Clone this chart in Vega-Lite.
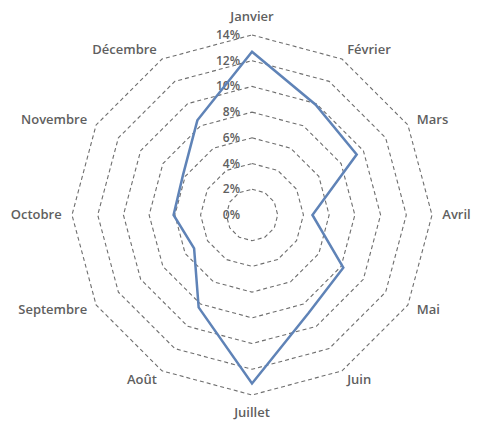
{
  "$schema": "https://vega.github.io/schema/vega-lite/v6.json",
  "width": 481,
  "height": 427,
  "autosize": "none",
  "padding": 0,
  "background": "white",
  "config": {"view": {"stroke": null}, "text": {"font": "Open Sans", "fontSize": 13, "fontWeight": 600, "color": "#5f5f5f"}},
  "datasets": {
    "ventes": [
      {"mois": "Janvier", "i": 0, "part": 0.127},
      {"mois": "Février", "i": 1, "part": 0.099},
      {"mois": "Mars", "i": 2, "part": 0.094},
      {"mois": "Avril", "i": 3, "part": 0.047},
      {"mois": "Mai", "i": 4, "part": 0.082},
      {"mois": "Juin", "i": 5, "part": 0.088},
      {"mois": "Juillet", "i": 6, "part": 0.131},
      {"mois": "Août", "i": 7, "part": 0.083},
      {"mois": "Septembre", "i": 8, "part": 0.052},
      {"mois": "Octobre", "i": 9, "part": 0.061},
      {"mois": "Novembre", "i": 10, "part": 0.062},
      {"mois": "Décembre", "i": 11, "part": 0.085}
    ],
    "niveaux": [
      {"niveau": 0, "sommet": [0,1,2,3,4,5,6,7,8,9,10,11]},
      {"niveau": 0.02, "sommet": [0,1,2,3,4,5,6,7,8,9,10,11]},
      {"niveau": 0.04, "sommet": [0,1,2,3,4,5,6,7,8,9,10,11]},
      {"niveau": 0.06, "sommet": [0,1,2,3,4,5,6,7,8,9,10,11]},
      {"niveau": 0.08, "sommet": [0,1,2,3,4,5,6,7,8,9,10,11]},
      {"niveau": 0.10, "sommet": [0,1,2,3,4,5,6,7,8,9,10,11]},
      {"niveau": 0.12, "sommet": [0,1,2,3,4,5,6,7,8,9,10,11]},
      {"niveau": 0.14, "sommet": [0,1,2,3,4,5,6,7,8,9,10,11]}
    ]
  },
  "layer": [
    {
      "data": {"name": "niveaux"},
      "transform": [
        {"filter": "datum.niveau > 0"},
        {"flatten": ["sommet"]},
        {"calculate": "datum.niveau * sin(datum.sommet * PI / 6)", "as": "gx"},
        {"calculate": "datum.niveau * cos(datum.sommet * PI / 6)", "as": "gy"}
      ],
      "mark": {"type": "line", "interpolate": "linear-closed", "strokeDash": [4, 3], "strokeWidth": 1.1, "color": "#6e6e6e"},
      "encoding": {
        "x": {"field": "gx", "type": "quantitative", "scale": {"domain": [-0.196, 0.1781], "nice": false, "zero": false}, "axis": null},
        "y": {"field": "gy", "type": "quantitative", "scale": {"domain": [-0.1649, 0.1672], "nice": false, "zero": false}, "axis": null},
        "detail": {"field": "niveau", "type": "nominal"},
        "order": {"field": "sommet", "type": "quantitative"}
      }
    },
    {
      "data": {"name": "niveaux"},
      "mark": {"type": "text", "align": "right", "baseline": "middle", "dx": -12, "fontSize": 12},
      "encoding": {
        "x": {"datum": 0, "type": "quantitative", "scale": {"domain": [-0.196, 0.1781], "nice": false, "zero": false}, "axis": null},
        "y": {"field": "niveau", "type": "quantitative", "scale": {"domain": [-0.1649, 0.1672], "nice": false, "zero": false}, "axis": null},
        "text": {"field": "niveau", "type": "quantitative", "format": ".0%"}
      }
    },
    {
      "data": {"name": "ventes"},
      "transform": [
        {"calculate": "datum.part * sin(datum.i * PI / 6)", "as": "px"},
        {"calculate": "datum.part * cos(datum.i * PI / 6)", "as": "py"}
      ],
      "mark": {"type": "line", "interpolate": "linear-closed", "strokeWidth": 2.5, "color": "#5f83b7"},
      "encoding": {
        "x": {"field": "px", "type": "quantitative", "scale": {"domain": [-0.196, 0.1781], "nice": false, "zero": false}, "axis": null},
        "y": {"field": "py", "type": "quantitative", "scale": {"domain": [-0.1649, 0.1672], "nice": false, "zero": false}, "axis": null},
        "order": {"field": "i", "type": "quantitative"}
      }
    },
    {
      "data": {"name": "ventes"},
      "transform": [
        {"filter": "datum.i % 6 == 0"},
        {"calculate": "0.154 * sin(datum.i * PI / 6)", "as": "lx"},
        {"calculate": "0.154 * cos(datum.i * PI / 6)", "as": "ly"}
      ],
      "mark": {"type": "text", "align": "center", "baseline": "middle"},
      "encoding": {
        "x": {"field": "lx", "type": "quantitative", "scale": {"domain": [-0.196, 0.1781], "nice": false, "zero": false}, "axis": null},
        "y": {"field": "ly", "type": "quantitative", "scale": {"domain": [-0.1649, 0.1672], "nice": false, "zero": false}, "axis": null},
        "text": {"field": "mois", "type": "nominal"}
      }
    },
    {
      "data": {"name": "ventes"},
      "transform": [
        {"filter": "datum.i > 0 && datum.i < 6"},
        {"calculate": "0.148 * sin(datum.i * PI / 6)", "as": "lx"},
        {"calculate": "0.148 * cos(datum.i * PI / 6)", "as": "ly"}
      ],
      "mark": {"type": "text", "align": "left", "baseline": "middle"},
      "encoding": {
        "x": {"field": "lx", "type": "quantitative", "scale": {"domain": [-0.196, 0.1781], "nice": false, "zero": false}, "axis": null},
        "y": {"field": "ly", "type": "quantitative", "scale": {"domain": [-0.1649, 0.1672], "nice": false, "zero": false}, "axis": null},
        "text": {"field": "mois", "type": "nominal"}
      }
    },
    {
      "data": {"name": "ventes"},
      "transform": [
        {"filter": "datum.i > 6"},
        {"calculate": "0.148 * sin(datum.i * PI / 6)", "as": "lx"},
        {"calculate": "0.148 * cos(datum.i * PI / 6)", "as": "ly"}
      ],
      "mark": {"type": "text", "align": "right", "baseline": "middle"},
      "encoding": {
        "x": {"field": "lx", "type": "quantitative", "scale": {"domain": [-0.196, 0.1781], "nice": false, "zero": false}, "axis": null},
        "y": {"field": "ly", "type": "quantitative", "scale": {"domain": [-0.1649, 0.1672], "nice": false, "zero": false}, "axis": null},
        "text": {"field": "mois", "type": "nominal"}
      }
    }
  ]
}
